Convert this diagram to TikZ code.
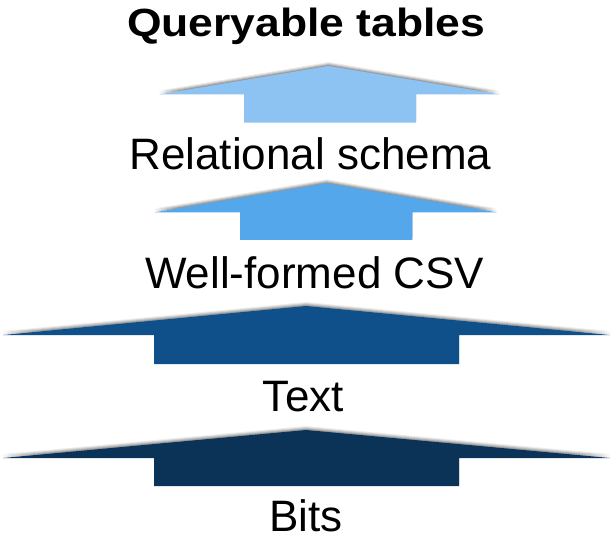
\documentclass[tikz,border=0pt]{standalone}
\usepackage{fontspec}
\setmainfont{Liberation Sans}
\definecolor{arrowA}{HTML}{8DC3F2}
\definecolor{arrowB}{HTML}{55A7EB}
\definecolor{arrowC}{HTML}{10508A}
\definecolor{arrowD}{HTML}{0B3357}
% #1 colour, #2 tip x, #3 tip y, #4 wing left x, #5 wing right x, #6 wing y, #7 stem left, #8 stem right, #9 bottom
\newcommand{\layerarrow}[9]{%
  \foreach \sh/\op in {4/0.07,3/0.10,2/0.13,1/0.16}{%
    \fill[black,opacity=\op,yshift=\sh*0.75pt]
      (#2,#3) -- (#5,#6) -- (#8,#6) -- (#8,#9) -- (#7,#9) -- (#7,#6) -- (#4,#6) -- cycle;
  }%
  \fill[#1] (#2,#3) -- (#5,#6) -- (#8,#6) -- (#8,#9) -- (#7,#9) -- (#7,#6) -- (#4,#6) -- cycle;
}
\begin{document}
\begin{tikzpicture}[x=0.75pt,y=-0.75pt,
  lbl/.style={anchor=base,inner sep=0pt,font=\fontsize{33}{40}\selectfont},
  ttl/.style={anchor=base,inner sep=0pt,font=\fontsize{29.5}{35}\selectfont\bfseries}]
\useasboundingbox (0,0) rectangle (616,541);
\fill[white] (0,0) rectangle (616,541);

\node[ttl] (title) at (306.3,36.7) {\scalebox{1.13}[1]{Queryable tables}};

\layerarrow{arrowA}{328.5}{66}{159}{500}{94.5}{244}{416}{122.7}
\node[lbl] (relational) at (310.5,169.3) {Relational schema};

\layerarrow{arrowB}{326.7}{183.3}{155}{496.7}{212.3}{240}{412.3}{240}
\node[lbl] (csv) at (314.7,288.3) {Well-formed CSV};

\layerarrow{arrowC}{306}{306}{3}{610}{335}{154}{459}{364}
\node[lbl] (text) at (303.3,411.7) {Text};

\layerarrow{arrowD}{306}{430}{3}{610}{458}{154}{459}{486}
\node[lbl] (bits) at (305.7,531.7) {Bits};
\end{tikzpicture}
\end{document}
